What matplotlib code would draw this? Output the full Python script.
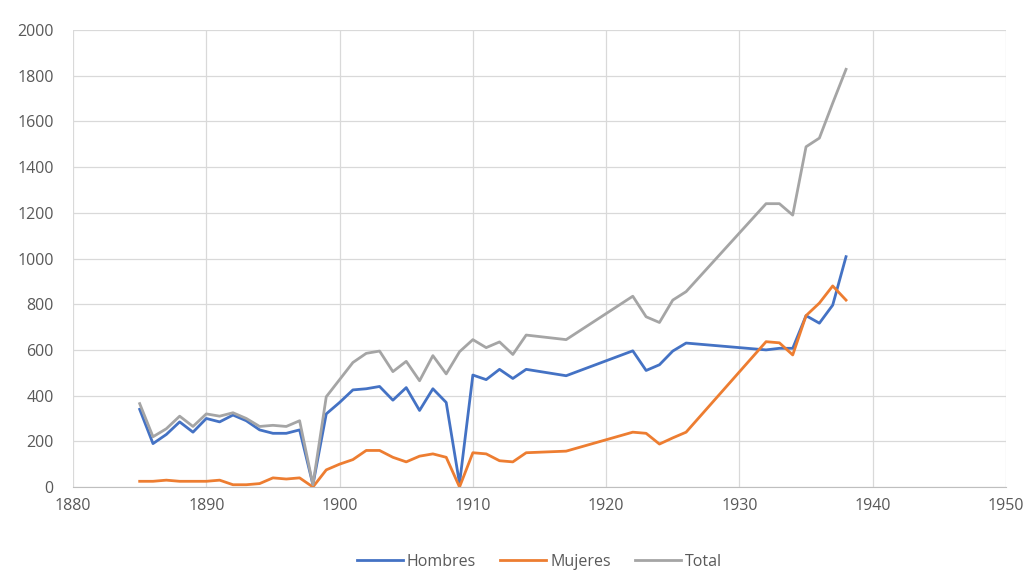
import matplotlib
matplotlib.use("Agg")
import matplotlib.pyplot as plt

# ============================================================================
# DATA
# ============================================================================

years = [1885, 1886, 1887, 1888, 1889, 1890, 1891, 1892, 1893, 1894, 1895, 1896, 1897,
         1898, 1899, 1900, 1901, 1902, 1903, 1904, 1905, 1906, 1907, 1908, 1909, 1910,
         1911, 1912, 1913, 1914, 1917, 1922, 1923, 1924, 1925, 1926, 1932, 1933, 1934,
         1935, 1936, 1937, 1938]

hombres = [340, 190, 230, 285, 240, 300, 285, 315, 290, 250, 235, 235, 250,
           10, 320, 370, 425, 430, 440, 380, 435, 335, 430, 370, 15, 490,
           470, 515, 475, 515, 487, 596, 510, 535, 595, 630, 600, 607, 607,
           750, 717, 796, 1008]

mujeres = [25, 25, 30, 25, 25, 25, 30, 10, 10, 15, 40, 35, 40,
           0, 75, 100, 120, 160, 160, 130, 110, 135, 145, 130, 0, 150,
           145, 115, 110, 150, 157, 240, 235, 188, 215, 240, 636, 631, 578,
           750, 805, 880, 818]

total = [365, 220, 255, 310, 265, 320, 310, 325, 300, 265, 270, 265, 290,
         10, 395, 470, 545, 585, 595, 505, 550, 465, 575, 495, 592, 645,
         610, 635, 580, 665, 645, 835, 745, 720, 818, 855, 1240, 1240, 1190,
         1489, 1527, 1680, 1828]

series_names = ["Hombres", "Mujeres", "Total"]
colors = ["#4472C4", "#ED7D31", "#A5A5A5"]

# ============================================================================
# PLOT
# ============================================================================

plt.rcParams['font.family'] = ['Open Sans', 'DejaVu Sans']

fig = plt.figure(figsize=(10.36, 5.85), dpi=100)
ax = fig.add_axes([0.0705, 0.1675, 0.9005, 0.7812])

for name, values, color in zip(series_names, [hombres, mujeres, total], colors):
    ax.plot(years, values, color=color, linewidth=2.0, label=name,
            solid_joinstyle='round')

ax.set_xlim(1880, 1950)
ax.set_ylim(0, 2000)
ax.set_xticks(range(1880, 1951, 10))
ax.set_yticks(range(0, 2001, 200))
ax.grid(True, color="#D9D9D9", linewidth=0.9)
ax.set_axisbelow(True)

for side in ['top', 'right', 'left']:
    ax.spines[side].set_visible(False)
ax.spines['bottom'].set_color("#BFBFBF")
ax.tick_params(axis='both', length=0, labelsize=11.5, colors="#595959")
ax.tick_params(axis='y', pad=14)
ax.tick_params(axis='x', pad=8)

ax.legend(loc='upper center', bbox_to_anchor=(0.5, -0.115), ncol=3, frameon=False,
          fontsize=11.5, labelcolor="#595959", handlelength=2.9, columnspacing=1.5,
          handletextpad=0.25)

fig.savefig("out.png", dpi=100)
